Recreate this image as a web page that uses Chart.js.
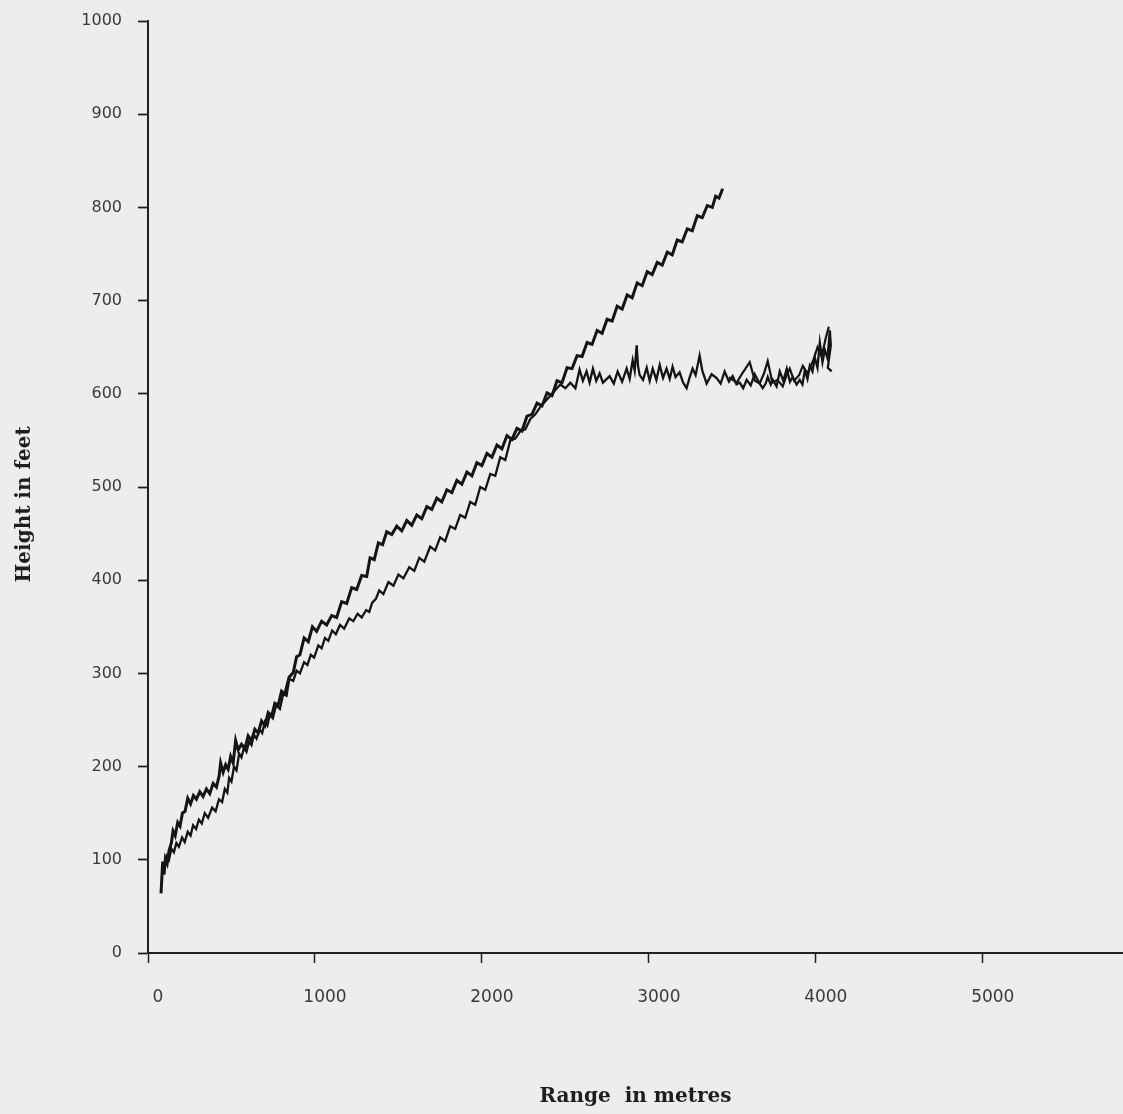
<!DOCTYPE html>
<html>
<head>
<meta charset="utf-8">
<script src="https://cdn.jsdelivr.net/npm/chart.js@4.4.1/dist/chart.umd.min.js"></script>
<style>
html,body{margin:0;padding:0;background:#ededeb;overflow:hidden;}
#wrap{width:1123px;height:1114px;position:relative;}
</style>
</head>
<body>
<div id="wrap"><canvas id="c"></canvas></div>
<script>
// Range in metres / height in feet
const xTitle = 'Range  in metres';
const yTitle = 'Height in feet';
const xTickValues = [0, 1000, 2000, 3000, 4000, 5000];
const yTickValues = [0, 100, 200, 300, 400, 500, 600, 700, 800, 900, 1000];

// Trace 1: climbs steadily to about 820 ft
const traceAx = [78,88,96,104,115,126,140,150,163,178,192,206,222,238,255,272,290,310,330,350,370,390,410,426,435,450,465,480,495,510,525,540,560,580,600,620,640,660,680,700,720,740,760,780,800,820,845,870,890,910,935,960,985,1010,1040,1070,1100,1130,1160,1190,1220,1250,1280,1310,1330,1355,1380,1405,1430,1460,1490,1520,1550,1580,1610,1640,1670,1700,1730,1760,1790,1820,1850,1880,1910,1940,1970,2000,2030,2060,2090,2120,2150,2180,2210,2240,2270,2300,2330,2360,2390,2420,2450,2480,2510,2540,2570,2600,2630,2660,2690,2720,2750,2780,2810,2840,2870,2900,2930,2960,2990,3020,3050,3080,3110,3140,3170,3200,3230,3260,3290,3320,3350,3380,3400,3420,3442];
const traceAy = [64,98,84,101,96,110,118,131,126,140,136,150,152,166,160,169,165,173,168,176,171,182,178,190,204,194,202,197,211,204,228,218,224,219,233,228,240,236,249,244,258,254,268,266,281,278,296,301,318,320,338,334,350,345,356,352,362,360,377,375,392,390,405,404,424,422,440,438,452,449,458,453,464,459,470,466,479,476,488,484,497,494,507,503,516,512,526,523,536,532,545,541,555,551,563,560,576,578,590,587,601,598,614,612,628,627,641,640,655,653,668,665,680,678,694,691,706,703,719,716,731,728,741,738,752,749,765,763,777,775,791,789,802,800,812,810,820];

// Trace 2: lower in the middle, then levels off near 620 ft
const traceBx = [100,112,126,140,155,170,185,204,220,238,255,270,288,305,322,340,360,384,405,425,444,460,475,486,500,515,530,546,560,576,590,606,620,635,650,668,684,700,715,730,748,768,790,810,830,846,870,890,910,935,955,975,995,1020,1040,1060,1080,1103,1125,1150,1175,1205,1230,1255,1280,1307,1325,1343,1365,1385,1410,1440,1470,1500,1530,1565,1595,1625,1655,1690,1720,1750,1780,1810,1840,1870,1900,1930,1960,1990,2020,2050,2080,2110,2140,2170,2200,2230,2260,2290,2320,2350,2380,2410,2440,2470,2500,2530,2560,2585,2605,2627,2645,2665,2685,2705,2725,2765,2790,2813,2840,2867,2885,2903,2915,2927,2935,2945,2965,2987,3005,3023,3045,3065,3085,3106,3125,3142,3160,3184,3205,3226,3245,3262,3280,3304,3320,3346,3376,3406,3430,3454,3480,3502,3525,3544,3565,3586,3610,3634,3660,3682,3700,3712,3730,3742,3765,3784,3805,3826,3845,3862,3885,3904,3920,3934,3950,3964,3980,3994,4010,4024,4040,4054,4070,4084,4090,4072,4095];
const traceBy = [92,104,100,112,108,118,114,124,119,130,126,137,133,143,139,150,145,156,152,165,162,176,172,188,184,200,196,214,210,221,216,227,223,234,230,240,236,248,244,256,252,266,262,278,276,294,292,303,300,312,309,320,317,330,327,338,335,346,342,352,348,359,356,364,360,368,366,376,380,389,385,398,394,406,402,414,410,424,420,436,432,446,442,458,455,470,467,484,481,500,497,514,512,532,529,550,552,560,562,573,578,586,592,598,604,610,606,612,606,626,614,624,612,627,614,622,612,619,611,624,613,627,616,636,625,652,630,620,615,628,614,627,615,631,617,627,616,629,618,623,612,606,618,627,620,641,625,611,621,617,611,624,613,619,610,612,606,615,609,621,612,606,611,618,610,615,608,624,614,627,613,618,610,615,610,625,616,630,624,639,628,655,634,647,638,668,652,628,624];

// Second trace over the level part (the small loops)
const traceCx = [3480,3526,3560,3604,3635,3664,3690,3712,3740,3770,3802,3825,3844,3870,3900,3922,3950,3985,4010,4035,4060,4078];
const traceCy = [618,612,622,634,614,611,622,635,612,615,608,620,627,614,620,630,622,636,650,640,660,672];

function pts(xs, ys){ return xs.map((x,i)=>({x:x, y:ys[i]})); }

const ink = '#141414';
const axisInk = '#202020';
const labelInk = '#3a3a3a';

new Chart(document.getElementById('c'), {
  type: 'line',
  data: {
    datasets: [
      {data: pts(traceAx, traceAy), borderColor: ink, borderWidth: 3, pointRadius: 0, tension: 0, fill: false},
      {data: pts(traceBx, traceBy), borderColor: ink, borderWidth: 2.3, pointRadius: 0, tension: 0, fill: false},
      {data: pts(traceCx, traceCy), borderColor: ink, borderWidth: 2.2, pointRadius: 0, tension: 0, fill: false}
    ]
  },
  options: {
    responsive: true,
    maintainAspectRatio: false,
    animation: false,
    layout: {padding: {top: 21, right: 0, bottom: 0, left: 0}},
    plugins: {legend: {display: false}, tooltip: {enabled: false}},
    scales: {
      x: {
        type: 'linear',
        min: 0,
        max: 5840,
        afterBuildTicks: (s) => { s.ticks = xTickValues.map(v => ({value: v})); },
        afterFit: (s) => { s.height = 161; s.paddingLeft = 0; s.paddingRight = 0; },
        ticks: {
          color: labelInk,
          font: {family: 'DejaVu Sans', size: 17},
          padding: 24,
          labelOffset: 10,
          maxRotation: 0,
          callback: (v) => String(v)
        },
        grid: {drawOnChartArea: false, drawTicks: true, tickLength: 10, tickWidth: 1.5, tickColor: axisInk},
        border: {display: true, color: axisInk, width: 2},
        title: {
          display: true,
          text: xTitle,
          color: '#1e1e1e',
          font: {family: 'DejaVu Serif', size: 20, weight: 'bold'},
          padding: {top: 0, bottom: 5}
        }
      },
      y: {
        type: 'linear',
        min: 0,
        max: 1000,
        afterBuildTicks: (s) => { s.ticks = yTickValues.map(v => ({value: v})); },
        afterFit: (s) => { s.width = 148; s.paddingTop = 0; s.paddingBottom = 0; },
        ticks: {
          color: labelInk,
          font: {family: 'DejaVu Sans', size: 16},
          padding: 16,
          callback: (v) => String(v)
        },
        grid: {drawOnChartArea: false, drawTicks: true, tickLength: 10, tickWidth: 1.8, tickColor: axisInk},
        border: {display: true, color: axisInk, width: 2},
        title: {
          display: true,
          text: yTitle + '     ',
          color: '#1e1e1e',
          font: {family: 'DejaVu Serif', size: 20, weight: 'bold'},
          padding: {top: 13, bottom: 0}
        }
      }
    }
  }
});
</script>
</body>
</html>
